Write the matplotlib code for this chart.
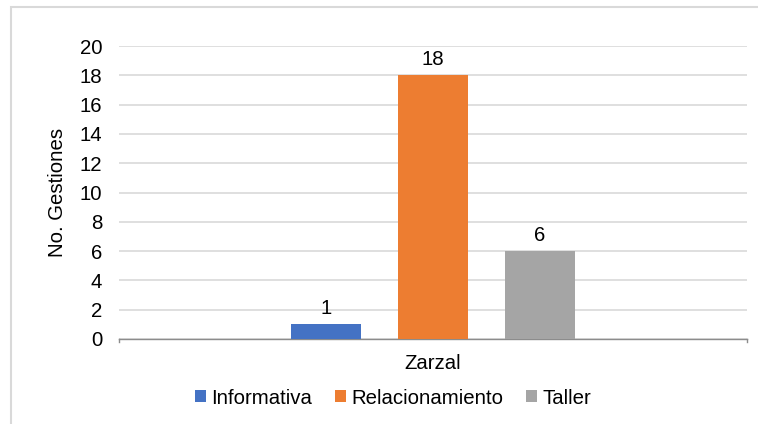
import matplotlib
matplotlib.use("Agg")
import matplotlib.pyplot as plt
from matplotlib.patches import Rectangle

plt.rcParams['font.family'] = ['Liberation Sans', 'DejaVu Sans']

category = "Zarzal"
series = ["Informativa", "Relacionamiento", "Taller"]
values = [1, 18, 6]
colors = ["#4472C4", "#ED7D31", "#A5A5A5"]
yticks = [0, 2, 4, 6, 8, 10, 12, 14, 16, 18, 20]

FS = 14.7
W, H = 758, 424
fig = plt.figure(figsize=(W / 100, H / 100), dpi=100)
fig.patch.set_facecolor("white")
# outer chart border
fig.add_artist(Rectangle((11 / W, -0.1), 1.2, (H - 7) / H + 0.1, transform=fig.transFigure,
                         fill=False, edgecolor="#D9D9D9", linewidth=1.5))

left, right, top, bottom = 119, 747, 46, 339
ax = fig.add_axes([left / W, 1 - bottom / H, (right - left) / W, (bottom - top) / H])

bw = 70 / 628
step = 107 / 628
for i, (s, v, c) in enumerate(zip(series, values, colors)):
    x = 0.5 + (i - 1) * step
    ax.bar(x, v, width=bw, color=c, label=s, zorder=3)
    ax.text(x, v + 0.45, str(v), ha="center", va="bottom", fontsize=FS, color="#000000")

ax.set_xlim(0, 1)
ax.set_ylim(0, 20)
ax.set_yticks(yticks)
ax.set_yticklabels([str(t) for t in yticks], fontsize=FS)
ax.set_xticks([0.5])
ax.set_xticklabels([category], fontsize=FS)
ax.tick_params(axis="y", length=0, pad=12)
ax.tick_params(axis="x", length=0, pad=11)
ax.grid(axis="y", color="#D9D9D9", linewidth=1.2, zorder=0)
for sp in ["top", "right", "left"]:
    ax.spines[sp].set_visible(False)
ax.spines["bottom"].set_color("#8C8C8C")
ax.spines["bottom"].set_linewidth(1.0)
# boundary tick marks on category axis
ax.plot([0, 0], [0, -0.2], color="#8C8C8C", lw=1.0, clip_on=False)
ax.plot([1, 1], [0, -0.2], color="#8C8C8C", lw=1.0, clip_on=False)

ax.set_ylabel("No. Gestiones", fontsize=FS)
ax.yaxis.set_label_coords((67 - left) / 628, 0.5)

leg = fig.legend(loc="center", bbox_to_anchor=(393 / W, 1 - 398 / H), ncol=3, frameon=False,
                 fontsize=FS, handlelength=0.55, handleheight=0.55, handletextpad=0.26,
                 columnspacing=1.1)

fig.savefig("out.png", dpi=100)
